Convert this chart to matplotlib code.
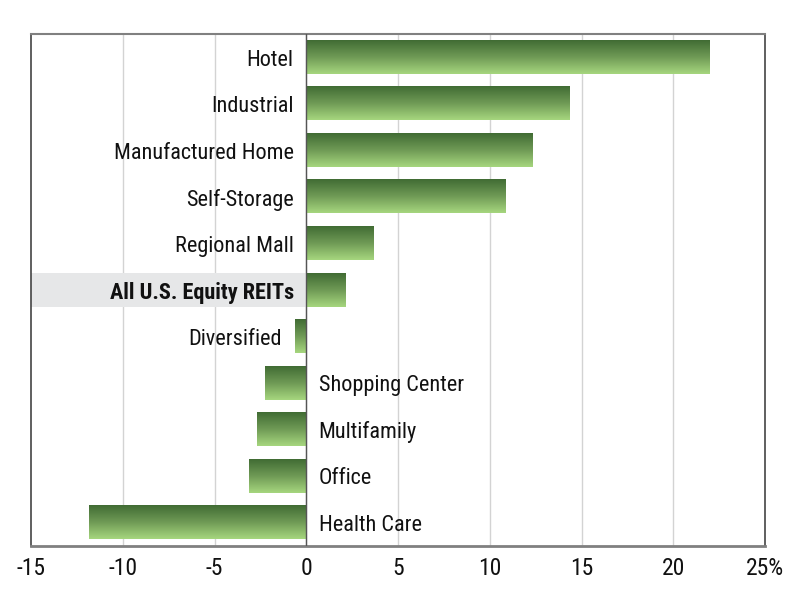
import numpy as np
import matplotlib
matplotlib.use("Agg")
import matplotlib.pyplot as plt
from matplotlib.colors import LinearSegmentedColormap

categories = ["Hotel", "Industrial", "Manufactured Home", "Self-Storage", "Regional Mall",
              "All U.S. Equity REITs", "Diversified", "Shopping Center", "Multifamily",
              "Office", "Health Care"]
values = [22.0, 14.35, 12.33, 10.86, 3.66, 2.13, -0.6, -2.24, -2.67, -3.11, -11.84]
xticks = [-15, -10, -5, 0, 5, 10, 15, 20, 25]
xticklabels = ["-15", "-10", "-5", "0", "5", "10", "15", "20", "25%"]
highlight = "All U.S. Equity REITs"

plt.rcParams['font.family'] = ['Liberation Sans Narrow', 'Roboto Condensed', 'DejaVu Sans']
plt.rcParams['font.stretch'] = 'condensed'

fig = plt.figure(figsize=(8, 6), dpi=100)
ax = fig.add_axes([31/800, 54/600, 734/800, 512/600])

n = len(categories)
y = np.arange(n)
bars = ax.barh(y, values, height=0.71, color="none", edgecolor="none", zorder=3)
ax.set_ylim(n - 0.5, -0.5)
ax.set_xlim(-15, 25)

cmap = LinearSegmentedColormap.from_list("g", ["#416c34", "#6f9a55", "#a6d67e"])
grad = np.linspace(0, 1, 100).reshape(-1, 1)
for b in bars:
    x0, y0 = b.get_x(), b.get_y()
    w, h = b.get_width(), b.get_height()
    ax.imshow(grad, cmap=cmap, aspect="auto", extent=(x0, x0 + w, y0 + h, y0),
              zorder=3, interpolation="bilinear")
ax.set_ylim(n - 0.5, -0.5)
ax.set_xlim(-15, 25)

# highlight band
hi = categories.index(highlight)
ax.axhspan(hi - 0.36, hi + 0.36, xmin=0, xmax=15/40, color="#e6e7e8", zorder=1, lw=0)

for xv in xticks[1:-1]:
    ax.axvline(xv, color="#d3d3d3", lw=1, zorder=0)
ax.axvline(0, color="#555555", lw=1, zorder=4)

fs = 16
for i, (c, v) in enumerate(zip(categories, values)):
    bold = (c == highlight)
    if c == "Diversified":
        ax.annotate(c, (v, i), xytext=(-10, -2), textcoords="offset points",
                    ha="right", va="center", fontsize=fs, color="#111111")
    elif v >= 0:
        ax.annotate(c, (0, i), xytext=(-9, -2), textcoords="offset points",
                    ha="right", va="center", fontsize=fs, color="#111111",
                    fontweight="bold" if bold else "normal")
    else:
        ax.annotate(c, (0, i), xytext=(9, -2), textcoords="offset points",
                    ha="left", va="center", fontsize=fs, color="#111111")

ax.set_yticks([])
ax.set_xticks(xticks)
ax.set_xticklabels(xticklabels, fontsize=17, color="#111111")
ax.tick_params(axis="x", length=0, pad=8)
for s in ["left", "right"]:
    ax.spines[s].set_color("#444444")
    ax.spines[s].set_linewidth(1.2)
ax.spines["top"].set_color("#808080")
ax.spines["top"].set_linewidth(1.5)
ax.spines["bottom"].set_color("#808080")
ax.spines["bottom"].set_linewidth(2)

fig.savefig("out.png", dpi=100)
